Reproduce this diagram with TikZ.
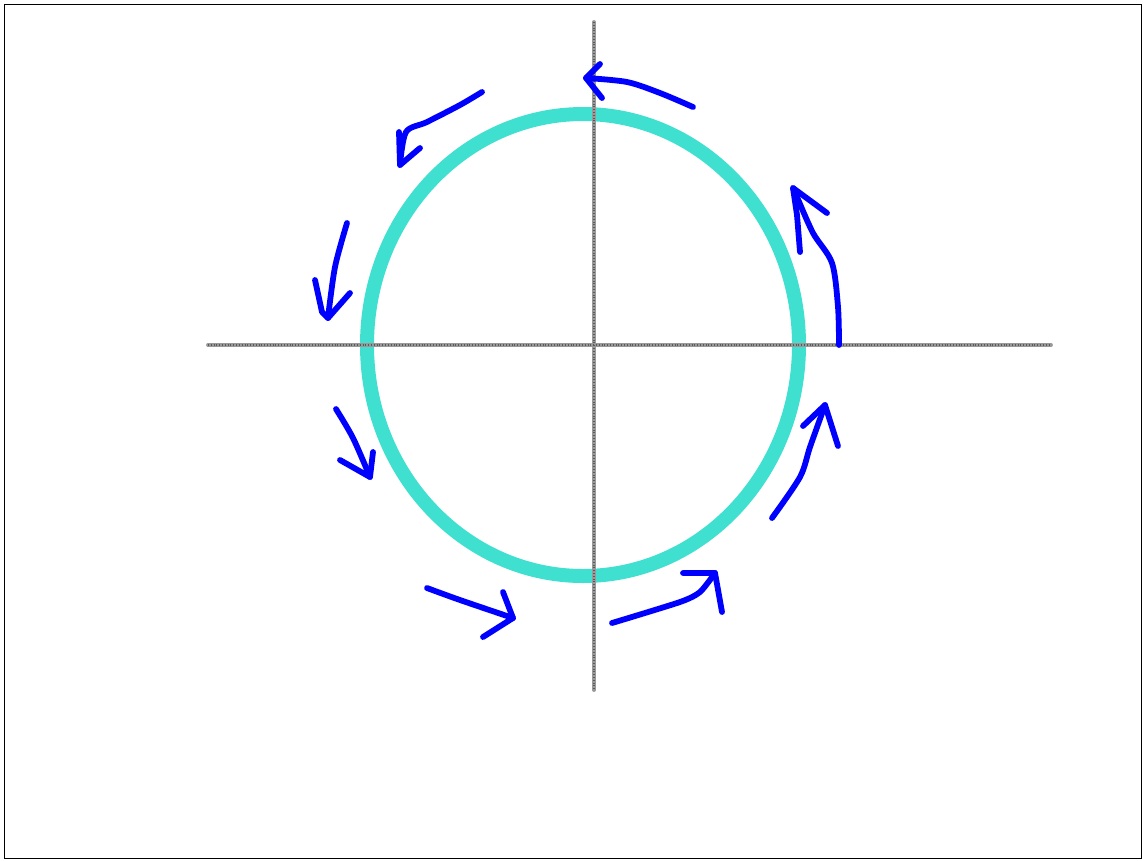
\documentclass[tikz,border=0pt]{standalone}
\usepackage{xcolor}
\usepackage{tikz}
\definecolor{ringcol}{HTML}{40E0D0}
\definecolor{strokecol}{HTML}{0000FF}

\begin{document}
\begin{tikzpicture}[x=0.02cm, y=-0.02cm,
  frame/.style={draw=black, line width=0.5pt},
  ring/.style={draw=ringcol, line width=0.28cm},
  axis/.style={draw=black!40, line width=2.2pt, line cap=round},
  axisdots/.style={draw=black!65, line width=1pt, dash pattern=on 0.4pt off 1.2pt},
  pen/.style={draw=strokecol, line width=3.3pt, line cap=round, line join=round}
]
  \useasboundingbox (0,0) rectangle (1145,860);
  \draw[frame] (4,4) rectangle (1141,858);

  % circle and axes
  \draw[ring] (583,345) ellipse [x radius=216, y radius=231];
  \draw[axis] (208,345) -- (1051,345);
  \draw[axis] (594,22) -- (594,690);
  \draw[axisdots] (208,345) -- (1051,345);
  \draw[axisdots] (594,22) -- (594,690);

  % hand drawn arrows, counter-clockwise
  \draw[pen] plot[smooth, tension=0.5] coordinates {(693,107) (660,93) (627,82) (586,78)};
  \draw[pen] (600,64) -- (586,78) -- (594,88) -- (602,98);

  \draw[pen] plot[smooth, tension=0.5] coordinates {(839,345) (838,307) (832,263) (813,233) (797,197) (793,188)};
  \draw[pen] (827,213) -- (793,188) -- (797,215) -- (800,252);

  \draw[pen] plot[smooth, tension=0.5] coordinates {(482,92) (460,105) (427,122) (406,132) (400,165)};
  \draw[pen] (399,132) -- (400,165) -- (420,148);

  \draw[pen] plot[smooth, tension=0.5] coordinates {(347,223) (335,267) (328,318)};
  \draw[pen] (315,280) -- (322,312) -- (328,318) -- (350,293);

  \draw[pen] plot[smooth, tension=0.5] coordinates {(336,409) (353,438) (370,477)};
  \draw[pen] (373,452) -- (370,477) -- (340,460);

  \draw[pen] plot[smooth, tension=0.5] coordinates {(427,588) (460,600) (513,618)};
  \draw[pen] (503,592) -- (508,605) -- (513,618) -- (483,637);

  \draw[pen] plot[smooth, tension=0.4] coordinates {(612,623) (680,602) (700,592) (715,573)};
  \draw[pen] (683,573) -- (715,573) -- (722,612);

  \draw[pen] plot[smooth, tension=0.5] coordinates {(772,518) (800,477) (810,447) (825,405)};
  \draw[pen] (803,426) -- (825,405) -- (838,446);
\end{tikzpicture}
\end{document}
